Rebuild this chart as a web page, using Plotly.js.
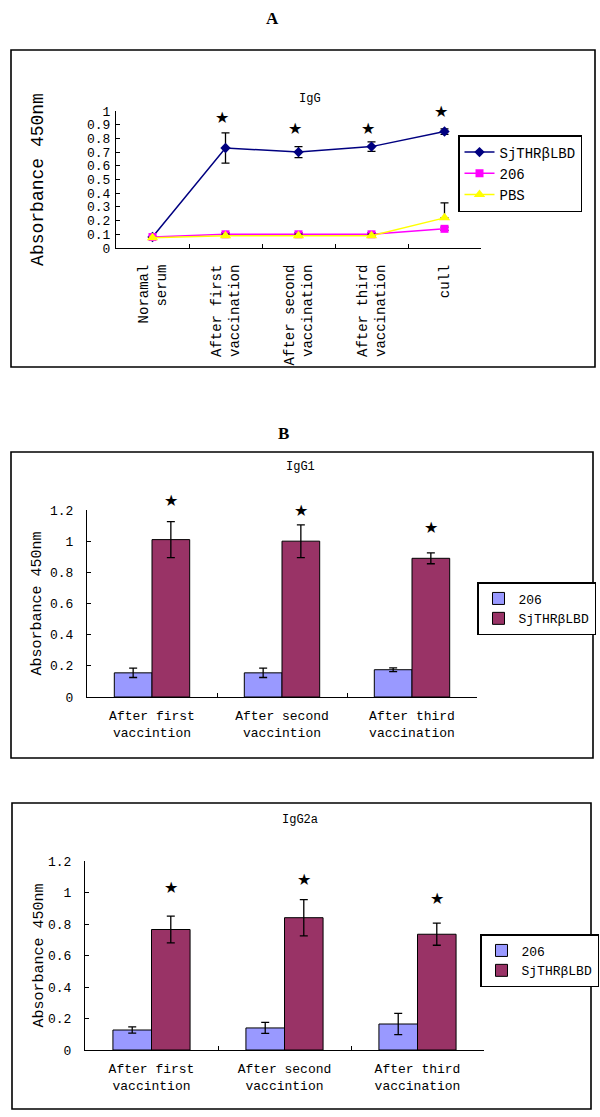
<!DOCTYPE html>
<html>
<head>
<meta charset="utf-8">
<script src="https://cdn.plot.ly/plotly-3.0.1.min.js"></script>
<style>html,body{margin:0;padding:0;background:#fff;}#chart{width:600px;height:1117px;}</style>
</head>
<body>
<div id="chart"></div>
<script>
// ---------- Data ----------
const catsA = ['Noramal<br>serum', 'After first<br>vaccination', 'After second<br>vaccination', 'After third<br>vaccination', 'cull'];
const sjA = [0.08, 0.73, 0.70, 0.74, 0.85];
const sjAerr = [0, 0.11, 0.04, 0.035, 0.02];
const s206A = [0.08, 0.10, 0.10, 0.10, 0.14];
const s206Aerr = [0, 0.012, 0.012, 0.012, 0.012];
const pbsA = [0.075, 0.09, 0.09, 0.09, 0.22];
const pbsAerrPlus = [0, 0.012, 0.012, 0.012, 0.11];
const pbsAerrMinus = [0, 0.012, 0.012, 0.012, 0];
const starA = [null, 0.95, 0.875, 0.875, 1.0];

const catsB = ['After first<br>vaccintion', 'After second<br>vaccintion', 'After third<br>vaccination'];
const igg1_206 = [0.155, 0.155, 0.175];
const igg1_206err = [0.03, 0.03, 0.012];
const igg1_sj = [1.01, 1.0, 0.89];
const igg1_sjerr = [0.115, 0.105, 0.035];
const starB1 = [1.26, 1.2, 1.085];

const igg2a_206 = [0.127, 0.14, 0.165];
const igg2a_206err = [0.02, 0.035, 0.067];
const igg2a_sj = [0.765, 0.84, 0.735];
const igg2a_sjerr = [0.085, 0.115, 0.07];
const starB2 = [1.03, 1.085, 0.965];

const nameSj = 'SjTHRβLBD';
const name206 = '206';
const namePBS = 'PBS';

// ---------- Helpers ----------
const W = 600, H = 1117;
const px = x => x / W;
const py = y => 1 - y / H;
const MONO = 'Liberation Mono, DejaVu Sans Mono, monospace';
const SERIF = 'Liberation Serif, Times New Roman, serif';
const yMaxA = 1.0, yMaxB = 1.2;

const errStyle = (arr, minus) => ({type: 'data', array: arr, arrayminus: minus || arr, symmetric: !minus, visible: true, color: '#000', thickness: 1.3, width: 4});

// ---------- Traces ----------
const traces = [
  {type: 'scatter', mode: 'lines+markers', x: catsA, y: sjA, name: nameSj, xaxis: 'x', yaxis: 'y', legend: 'legend',
   line: {color: '#000080', width: 1.5}, marker: {symbol: 'diamond', size: 8, color: '#000080'}, error_y: errStyle(sjAerr)},
  {type: 'scatter', mode: 'lines+markers', x: catsA, y: s206A, name: name206, xaxis: 'x', yaxis: 'y', legend: 'legend',
   line: {color: '#FF00FF', width: 1.5}, marker: {symbol: 'square', size: 8, color: '#FF00FF'}, error_y: errStyle(s206Aerr)},
  {type: 'scatter', mode: 'lines+markers', x: catsA, y: pbsA, name: namePBS, xaxis: 'x', yaxis: 'y', legend: 'legend',
   line: {color: '#FFFF00', width: 1.5}, marker: {symbol: 'triangle-up', size: 10, color: '#FFFF00'}, error_y: errStyle(pbsAerrPlus, pbsAerrMinus)},

  {type: 'bar', x: catsB, y: igg1_206, name: name206, xaxis: 'x2', yaxis: 'y2', legend: 'legend2',
   marker: {color: '#9999FF', line: {color: '#000', width: 1}}, error_y: errStyle(igg1_206err)},
  {type: 'bar', x: catsB, y: igg1_sj, name: nameSj, xaxis: 'x2', yaxis: 'y2', legend: 'legend2',
   marker: {color: '#993366', line: {color: '#000', width: 1}}, error_y: errStyle(igg1_sjerr)},

  {type: 'bar', x: catsB, y: igg2a_206, name: name206, xaxis: 'x3', yaxis: 'y3', legend: 'legend3',
   marker: {color: '#9999FF', line: {color: '#000', width: 1}}, error_y: errStyle(igg2a_206err)},
  {type: 'bar', x: catsB, y: igg2a_sj, name: nameSj, xaxis: 'x3', yaxis: 'y3', legend: 'legend3',
   marker: {color: '#993366', line: {color: '#000', width: 1}}, error_y: errStyle(igg2a_sjerr)}
];

// ---------- Annotations ----------
const lbl = (text, x, y, font) => ({text: text, xref: 'paper', yref: 'paper', x: px(x), y: py(y), xanchor: 'center', yanchor: 'middle', showarrow: false, font: font});
const annotations = [
  lbl('<b>A</b>', 272, 19, {family: SERIF, size: 17, color: '#000'}),
  lbl('<b>B</b>', 283, 433, {family: SERIF, size: 17, color: '#000'}),
  lbl('IgG', 310, 99, {family: MONO, size: 12, color: '#000'}),
  lbl('IgG1', 300, 467, {family: MONO, size: 12, color: '#000'}),
  lbl('IgG2a', 300, 820, {family: MONO, size: 12, color: '#000'})
];
const starFont = {family: 'DejaVu Sans', size: 16, color: '#000'};
const star = (xref, yref, x, y, xshift) => ({text: '★', xref: xref, yref: yref, x: x, y: y, xshift: xshift, xanchor: 'center', yanchor: 'middle', showarrow: false, font: starFont});
for (let i = 1; i < catsA.length; i++) {
  annotations.push(star('x', 'y domain', catsA[i], starA[i] / yMaxA, -4));
}
for (let i = 0; i < catsB.length; i++) {
  annotations.push(star('x2', 'y2 domain', catsB[i], starB1[i] / yMaxB, 19));
  annotations.push(star('x3', 'y3 domain', catsB[i], starB2[i] / yMaxB, 19));
}

// ---------- Frames ----------
const rect = (x0, y0, x1, y1) => ({type: 'rect', xref: 'paper', yref: 'paper', x0: px(x0), x1: px(x1), y0: py(y1), y1: py(y0), line: {color: '#000', width: 1.6}, fillcolor: 'rgba(0,0,0,0)'});
const shapes = [rect(11, 50, 595, 367), rect(11, 452, 593, 758), rect(12, 803, 591, 1109)];

// ---------- Axes ----------
const xBase = {type: 'category', showline: true, linecolor: '#000', linewidth: 1, ticks: 'inside', ticklen: 4, tickcolor: '#000',
  tickson: 'boundaries', showgrid: false, zeroline: false, fixedrange: true};
const yBase = {showline: true, linecolor: '#000', linewidth: 1, ticks: 'inside', ticklen: 4, tickcolor: '#000',
  showgrid: false, zeroline: false, fixedrange: true};

const layout = {
  width: W, height: H, margin: {l: 0, r: 0, t: 0, b: 0}, paper_bgcolor: '#fff', plot_bgcolor: '#fff',
  showlegend: true, barmode: 'group', bargap: 0.42, bargroupgap: 0,
  xaxis: Object.assign({}, xBase, {domain: [px(116), px(481)], anchor: 'y', range: [-0.5, 4.5], tickangle: -90,
    tickfont: {family: MONO, size: 14, color: '#000'}, ticklabelstandoff: 10}),
  yaxis: Object.assign({}, yBase, {domain: [py(248), py(111)], anchor: 'x', range: [0, yMaxA], dtick: 0.1,
    tickfont: {family: MONO, size: 13, color: '#000'}, ticklabelstandoff: 2,
    title: {text: 'Absorbance 450nm', font: {family: MONO, size: 18, color: '#000'}, standoff: 38}}),
  xaxis2: Object.assign({}, xBase, {domain: [px(87), px(477)], anchor: 'y2', range: [-0.5, 2.5],
    tickfont: {family: MONO, size: 13, color: '#000'}, ticklabelstandoff: 6}),
  yaxis2: Object.assign({}, yBase, {domain: [py(697), py(510)], anchor: 'x2', range: [0, yMaxB], dtick: 0.2,
    tickfont: {family: MONO, size: 13, color: '#000'}, ticklabelstandoff: 10,
    title: {text: 'Absorbance 450nm', font: {family: MONO, size: 15, color: '#000'}, standoff: 4}}),
  xaxis3: Object.assign({}, xBase, {domain: [px(85), px(484)], anchor: 'y3', range: [-0.5, 2.5],
    tickfont: {family: MONO, size: 13, color: '#000'}, ticklabelstandoff: 6}),
  yaxis3: Object.assign({}, yBase, {domain: [py(1050), py(861)], anchor: 'x3', range: [0, yMaxB], dtick: 0.2,
    tickfont: {family: MONO, size: 13, color: '#000'}, ticklabelstandoff: 10,
    title: {text: 'Absorbance 450nm', font: {family: MONO, size: 15, color: '#000'}, standoff: 0}}),
  legend: {x: px(458), y: py(135), xanchor: 'left', yanchor: 'top', bgcolor: '#fff', bordercolor: '#000', borderwidth: 1.5,
    font: {family: MONO, size: 14, color: '#000'}, traceorder: 'normal'},
  legend2: {x: px(477), y: py(582), xanchor: 'left', yanchor: 'top', bgcolor: '#fff', bordercolor: '#000', borderwidth: 1.5,
    font: {family: MONO, size: 13, color: '#000'}, traceorder: 'normal'},
  legend3: {x: px(480), y: py(934), xanchor: 'left', yanchor: 'top', bgcolor: '#fff', bordercolor: '#000', borderwidth: 1.5,
    font: {family: MONO, size: 13, color: '#000'}, traceorder: 'normal'},
  annotations: annotations,
  shapes: shapes
};

Plotly.newPlot('chart', traces, layout, {displayModeBar: false, staticPlot: true});
</script>
</body>
</html>
